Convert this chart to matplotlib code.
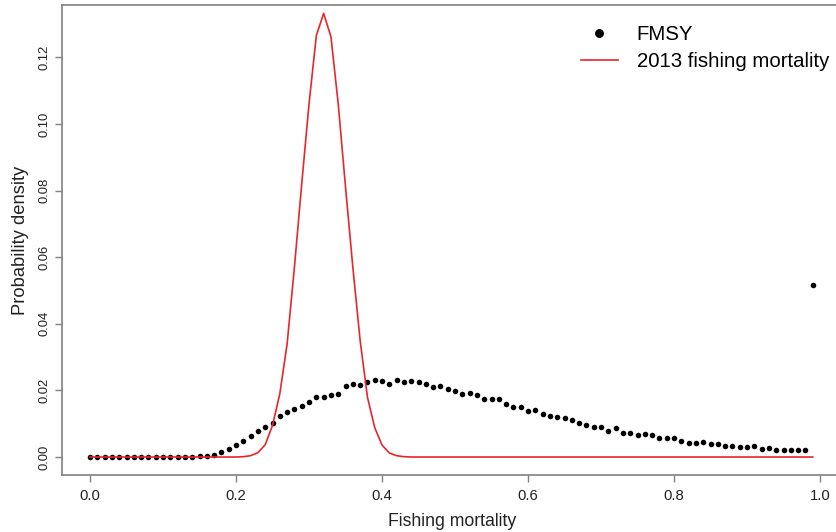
import matplotlib
matplotlib.use('Agg')
import matplotlib.pyplot as plt
import numpy as np

plt.rcParams['font.family'] = ['Liberation Sans', 'DejaVu Sans']

# Fishing mortality grid (0.00 .. 0.99 in steps of 0.01)
f_grid = np.round(np.arange(100) * 0.01, 2)

# FMSY posterior, probability per 0.01 bin
fmsy_density = [
    0, 0, 0, 0, 0, 0, 0, 0, 0, 0,
    0, 0, 0, 0, 0.0001, 0.0003, 0.0004, 0.0006, 0.0014, 0.0023,
    0.0035, 0.0048, 0.0062, 0.0079, 0.0091, 0.0103, 0.0123, 0.0134, 0.0144, 0.0153,
    0.0165, 0.0181, 0.0179, 0.0185, 0.0189, 0.0213, 0.0220, 0.0216, 0.0225, 0.0230,
    0.0228, 0.0220, 0.0232, 0.0224, 0.0228, 0.0226, 0.0219, 0.0209, 0.0213, 0.0205,
    0.0198, 0.0189, 0.0191, 0.0187, 0.0175, 0.0174, 0.0173, 0.0159, 0.0151, 0.0151,
    0.0139, 0.0141, 0.0130, 0.0124, 0.0119, 0.0117, 0.0111, 0.0101, 0.0095, 0.0089,
    0.0089, 0.0078, 0.0086, 0.0073, 0.0071, 0.0065, 0.0069, 0.0065, 0.0058, 0.0058,
    0.0057, 0.0048, 0.0041, 0.0042, 0.0044, 0.0039, 0.0038, 0.0034, 0.0032, 0.0031,
    0.0031, 0.0032, 0.0025, 0.0026, 0.0022, 0.0022, 0.0022, 0.0020, 0.0020, 0.0517,
]

# 2013 fishing mortality estimate, probability per 0.01 bin
f2013_density = [
    0, 0, 0, 0, 0, 0, 0, 0, 0, 0,
    0, 0, 0, 0, 0, 0, 0, 0, 0, 0,
    0, 0.0001, 0.0004, 0.0013, 0.0037, 0.0095, 0.019, 0.034, 0.057, 0.082,
    0.106, 0.1265, 0.1332, 0.1262, 0.106, 0.081, 0.057, 0.035, 0.018, 0.0088,
    0.0036, 0.0012, 0.0004, 0.0001, 0, 0, 0, 0, 0, 0,
] + [0] * 50

x_ticks = [0.0, 0.2, 0.4, 0.6, 0.8, 1.0]
y_ticks = [0.00, 0.02, 0.04, 0.06, 0.08, 0.10, 0.12]

W, H = 836, 532
fig = plt.figure(figsize=(W / 100, H / 100), dpi=100)
ax = fig.add_axes([62 / W, (H - 475) / H, 780 / W, 470 / H])

ax.plot(f_grid, fmsy_density, 'o', color='black', ms=4.0, mew=0, label='FMSY')
ax.plot(f_grid, f2013_density, '-', color='#e8262a', lw=1.2, label='2013 fishing mortality')

ax.set_xlim(-0.0384, 1.0301)
ax.set_ylim(-0.0054, 0.1357)

ax.set_xticks(x_ticks)
ax.set_xticklabels([f'{v:.1f}' for v in x_ticks], fontsize=10.7, color='#222')
ax.set_yticks(y_ticks)
ax.set_yticklabels([f'{v:.2f}' for v in y_ticks], fontsize=9.4, color='#222',
                   rotation=90, va='center')

for sp in ax.spines.values():
    sp.set_color('#808080')
    sp.set_linewidth(1.2)
ax.tick_params(axis='both', direction='out', length=5, width=1.0, color='#808080')
ax.tick_params(axis='x', pad=5)
ax.tick_params(axis='y', pad=3)

ax.set_xlabel('Fishing mortality', fontsize=12.7, color='#222', labelpad=7)
ax.set_ylabel('Probability density', fontsize=13.2, color='#222', labelpad=7)

leg = ax.legend(loc='upper left', bbox_to_anchor=(581 / W, 1 - 25 / H),
                bbox_transform=fig.transFigure, frameon=False, fontsize=14.7,
                handlelength=1.8, handletextpad=0.93, labelspacing=0.4,
                borderpad=0, borderaxespad=0, markerscale=1.6)

fig.savefig('out.png', dpi=100, facecolor='white')
plt.close(fig)
